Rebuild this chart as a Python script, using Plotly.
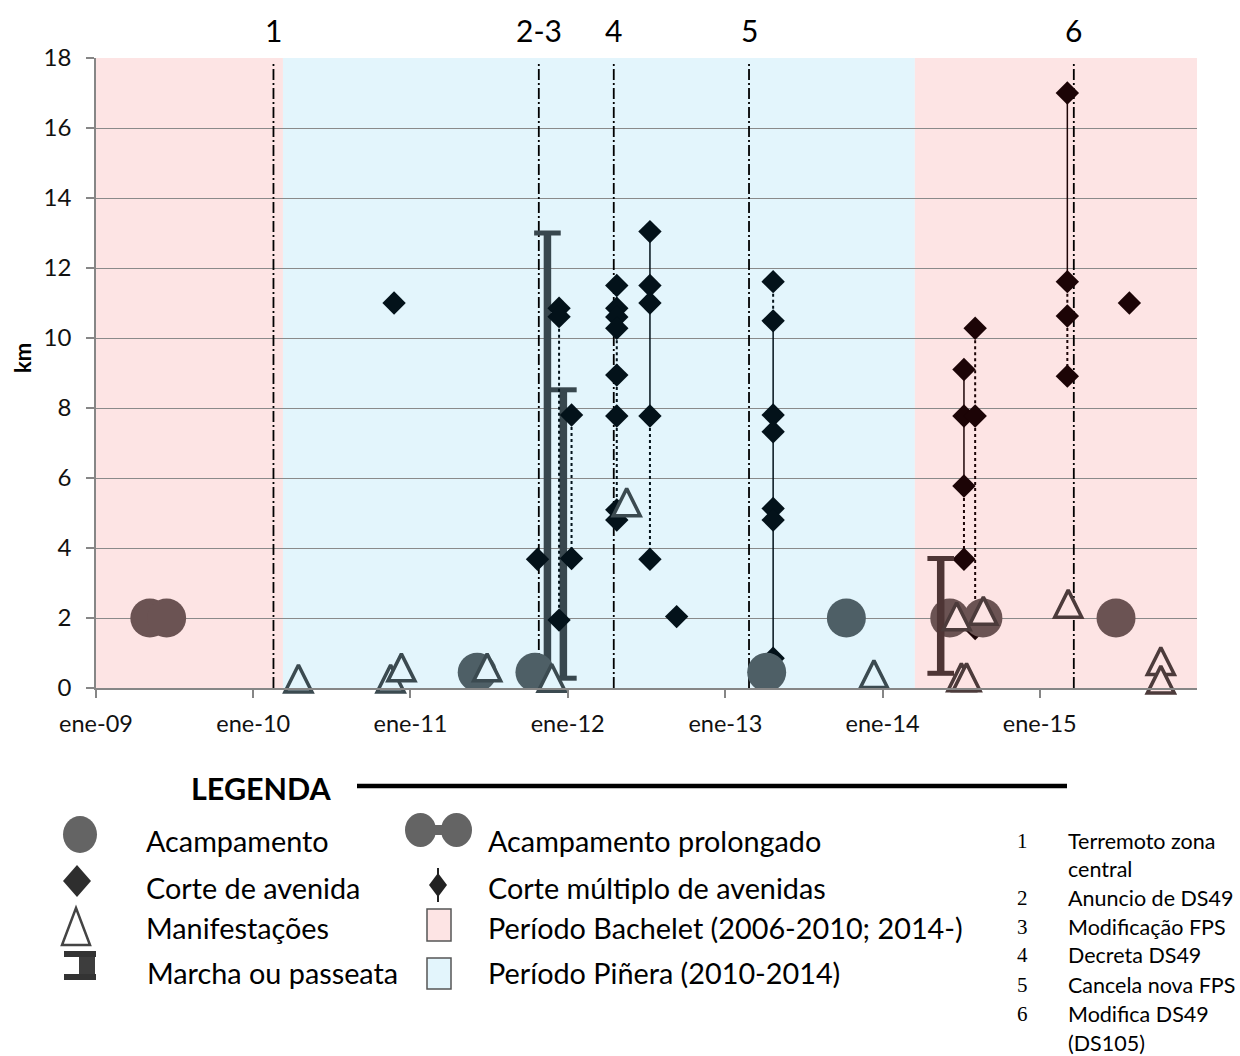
import plotly.graph_objects as go

W, H = 1240, 1056

# ---------------- data ----------------
x_start, x_end = "2009-01-01", "2016-01-01"
tick_dates = ["2009-01-01", "2010-01-01", "2011-01-01", "2012-01-01",
              "2013-01-01", "2014-01-01", "2015-01-01"]
tick_labels = ["ene-09", "ene-10", "ene-11", "ene-12", "ene-13", "ene-14", "ene-15"]
y_ticks = [0, 2, 4, 6, 8, 10, 12, 14, 16, 18]

piniera_start, piniera_end = "2010-03-11", "2014-03-17"

event_labels = ["1", "2-3", "4", "5", "6"]
event_dates = ["2010-02-17", "2011-10-26", "2012-04-17", "2013-02-25", "2015-03-21"]

# Acampamento
acamp_dates = ["2011-06-05", "2011-10-17", "2013-04-07", "2013-10-09", "2015-06-27"]
acamp_km = [0.45, 0.45, 0.45, 2.0, 2.0]

# Acampamento prolongado (start / end)
prol_start = ["2009-05-06", "2014-06-06"]
prol_end = ["2009-06-14", "2014-08-22"]
prol_km = [2.0, 2.0]

# Corte de avenida (single)
corte_dates = ["2010-11-24", "2011-10-23", "2012-09-10", "2015-07-28"]
corte_km = [11.0, 3.68, 2.04, 11.0]

# Corte múltiplo de avenidas
multi_dates = ["2011-12-12", "2012-01-10", "2012-04-24", "2012-07-10",
               "2013-04-22", "2014-07-09", "2014-08-04", "2015-03-06"]
multi_km = [
    [10.85, 10.61, 1.94],
    [7.8, 3.7],
    [11.5, 10.85, 10.6, 10.28, 8.94, 7.77, 5.09, 4.8],
    [13.04, 11.5, 11.0, 7.77, 3.68],
    [11.61, 10.49, 7.8, 7.32, 5.13, 4.8, 0.85],
    [9.1, 7.77, 5.77, 3.68],
    [10.28, 7.77, 1.7],
    [17.0, 11.61, 10.63, 8.91],
]

# Manifestações
manif_dates = ["2010-04-16", "2010-11-16", "2010-12-11", "2011-06-28", "2011-11-25",
               "2012-05-17", "2013-12-12", "2014-06-22", "2014-08-23", "2014-07-03",
               "2014-07-15", "2015-03-08", "2015-10-09", "2015-10-09"]
manif_km = [0.27, 0.27, 0.59, 0.59, 0.29, 5.31, 0.4, 2.05, 2.21, 0.31, 0.31, 2.41, 0.77, 0.24]

# Marcha ou passeata (low / high)
marcha_dates = ["2011-11-15", "2011-12-22", "2014-05-16"]
marcha_low = [0.25, 0.28, 0.42]
marcha_high = [13.0, 8.52, 3.7]

# ---------------- styles ----------------
FONT = "Lato, 'Open Sans', sans-serif"
BG = {"b": "#fde4e4", "p": "#e3f5fc"}
C_CIRCLE = {"b": "#6b5353", "p": "#4e5f66"}
C_DIAM = {"b": "#1c0406", "p": "#03121a"}
C_TRI = {"b": "#4c3b3b", "p": "#3b4a50"}
C_MARCHA = {"b": "#4e3535", "p": "#38474e"}
multi_seg_dash = [
    ["dot", "dot"], ["dot"], ["dot"] * 7, ["solid", "solid", "solid", "dot"],
    ["dot", "solid", "solid", "solid", "solid", "solid"], ["solid", "solid", "dot"],
    ["dot", "dot"], ["solid", "dot", "dot"],
]
EVENT_TOP = 17.85


def period(d):
    return "p" if piniera_start <= d < piniera_end else "b"


def X(p):
    return p / W


def Y(p):
    return 1 - p / H


fig = go.Figure()

# Event lines (dash-dot)
for d in event_dates:
    fig.add_trace(go.Scatter(x=[d, d], y=[0, EVENT_TOP], mode="lines",
                             line=dict(color="black", width=1.8, dash="11px,3px,2px,3px"),
                             showlegend=False, hoverinfo="skip"))


def add_marcha(i):
    c = C_MARCHA[period(marcha_dates[i])]
    fig.add_trace(go.Scatter(
        x=[marcha_dates[i], marcha_dates[i]], y=[marcha_low[i], marcha_high[i]],
        mode="lines+markers", line=dict(color=c, width=7.5),
        marker=dict(symbol="line-ew", size=19, color=c, line=dict(color=c, width=5)),
        showlegend=False, hoverinfo="skip", cliponaxis=False))


for i, d in enumerate(marcha_dates):
    if period(d) == "p":
        add_marcha(i)

# Multi cuts: connecting lines
for d, ks, dashes in zip(multi_dates, multi_km, multi_seg_dash):
    c = C_DIAM[period(d)]
    for j in range(len(ks) - 1):
        fig.add_trace(go.Scatter(x=[d, d], y=[ks[j], ks[j + 1]], mode="lines",
                                 line=dict(color=c, width=2 if dashes[j] == "dot" else 1.5,
                                           dash=dashes[j]),
                                 showlegend=False, hoverinfo="skip"))

# Diamonds
all_d, all_k = [], []
for d, ks in zip(multi_dates, multi_km):
    all_d += [d] * len(ks)
    all_k += ks
all_d += corte_dates
all_k += corte_km
fig.add_trace(go.Scatter(x=all_d, y=all_k, mode="markers",
                         marker=dict(symbol="diamond", size=18,
                                     color=[C_DIAM[period(d)] for d in all_d]),
                         showlegend=False, hoverinfo="skip"))

# Acampamento prolongado
for s, e, k in zip(prol_start, prol_end, prol_km):
    c = C_CIRCLE[period(s)]
    fig.add_trace(go.Scatter(x=[s, e], y=[k, k], mode="lines+markers",
                             line=dict(color=c, width=14),
                             marker=dict(size=39, color=c),
                             showlegend=False, hoverinfo="skip"))

# Acampamento
fig.add_trace(go.Scatter(x=acamp_dates, y=acamp_km, mode="markers",
                         marker=dict(size=39, color=[C_CIRCLE[period(d)] for d in acamp_dates]),
                         showlegend=False, hoverinfo="skip"))

for i, d in enumerate(marcha_dates):
    if period(d) == "b":
        add_marcha(i)

# Manifestações (upward triangles centred on the value)
fig.add_trace(go.Scatter(
    x=manif_dates, y=manif_km, mode="markers",
    marker=dict(symbol="arrow-down", angle=180, size=27, standoff=13.5,
                color=[BG[period(d)] for d in manif_dates],
                line=dict(color=[C_TRI[period(d)] for d in manif_dates], width=3.5)),
    showlegend=False, hoverinfo="skip", cliponaxis=False))

# ---------------- shapes ----------------
shapes = []
for x0, x1, p in [(x_start, piniera_start, "b"), (piniera_start, piniera_end, "p"),
                  (piniera_end, x_end, "b")]:
    shapes.append(dict(type="rect", xref="x", yref="y domain", x0=x0, x1=x1, y0=0, y1=1,
                       fillcolor=BG[p], line=dict(width=0), layer="below"))

annotations = []
for d, lab in zip(event_dates, event_labels):
    annotations.append(dict(x=d, xref="x", y=Y(30), yref="paper", text=lab, showarrow=False,
                            font=dict(family=FONT, size=30, color="black"),
                            xanchor="center", yanchor="middle"))

annotations.append(dict(x=X(22), y=Y(358), xref="paper", yref="paper", text="<b>km</b>",
                        textangle=-90, showarrow=False, xanchor="center", yanchor="middle",
                        font=dict(family=FONT, size=22, color="black")))

# ---------------- legend ----------------
def path(pts):
    return "M " + " L ".join(f"{X(a):.5f},{Y(b):.5f}" for a, b in pts) + " Z"


annotations.append(dict(x=X(189), y=Y(788), xref="paper", yref="paper", text="<b>LEGENDA</b>",
                        showarrow=False, xanchor="left", yanchor="middle",
                        font=dict(family=FONT, size=30.5, color="black")))
shapes.append(dict(type="line", xref="paper", yref="paper", x0=X(357), x1=X(1067),
                   y0=Y(786), y1=Y(786), line=dict(color="black", width=4.5)))

g_circ = "#646464"
shapes.append(dict(type="circle", xref="paper", yref="paper", x0=X(63), x1=X(97),
                   y0=Y(853), y1=Y(816), fillcolor=g_circ, line=dict(width=0)))
shapes.append(dict(type="circle", xref="paper", yref="paper", x0=X(405), x1=X(436),
                   y0=Y(847), y1=Y(813), fillcolor=g_circ, line=dict(width=0)))
shapes.append(dict(type="circle", xref="paper", yref="paper", x0=X(441), x1=X(472),
                   y0=Y(847), y1=Y(813), fillcolor=g_circ, line=dict(width=0)))
shapes.append(dict(type="rect", xref="paper", yref="paper", x0=X(420), x1=X(456),
                   y0=Y(835), y1=Y(825), fillcolor=g_circ, line=dict(width=0)))
shapes.append(dict(type="path", xref="paper", yref="paper",
                   path=path([(77, 865), (91, 881), (77, 897), (63, 881)]),
                   fillcolor="#2e2e2e", line=dict(width=0)))
shapes.append(dict(type="line", xref="paper", yref="paper", x0=X(438), x1=X(438),
                   y0=Y(868), y1=Y(902), line=dict(color="#222222", width=2)))
shapes.append(dict(type="path", xref="paper", yref="paper",
                   path=path([(438, 873), (447, 885), (438, 897), (429, 885)]),
                   fillcolor="#222222", line=dict(width=0)))
shapes.append(dict(type="path", xref="paper", yref="paper",
                   path=path([(76, 908), (90, 945), (62, 945)]),
                   fillcolor="white", line=dict(color="#444444", width=2.5)))
for y0, y1 in [(951, 957), (974, 980)]:
    shapes.append(dict(type="rect", xref="paper", yref="paper", x0=X(64), x1=X(96),
                       y0=Y(y1), y1=Y(y0), fillcolor="#333333", line=dict(width=0)))
shapes.append(dict(type="rect", xref="paper", yref="paper", x0=X(79), x1=X(95),
                   y0=Y(974), y1=Y(957), fillcolor="#3d3d3d", line=dict(width=0)))
shapes.append(dict(type="rect", xref="paper", yref="paper", x0=X(427), x1=X(451),
                   y0=Y(941), y1=Y(909), fillcolor=BG["b"], line=dict(color="#555555", width=1.5)))
shapes.append(dict(type="rect", xref="paper", yref="paper", x0=X(427), x1=X(451),
                   y0=Y(989), y1=Y(958), fillcolor=BG["p"], line=dict(color="#555555", width=1.5)))

leg_texts = [
    (144, 841, "Acampamento"), (144, 888, "Corte de avenida"), (144, 928, "Manifestações"),
    (145, 973, "Marcha ou passeata"),
    (486, 841, "Acampamento prolongado"), (486, 888, "Corte múltiplo de avenidas"),
    (486, 928, "Período Bachelet (2006-2010; 2014-)"), (486, 973, "Período Piñera (2010-2014)"),
]
for x, y, t in leg_texts:
    annotations.append(dict(x=X(x), y=Y(y), xref="paper", yref="paper", text=t,
                            showarrow=False, xanchor="left", yanchor="middle",
                            font=dict(family=FONT, size=28.8, color="black")))

ev_nums = [(841, "1"), (898, "2"), (927, "3"), (955, "4"), (985, "5"), (1014, "6")]
for y, t in ev_nums:
    annotations.append(dict(x=X(1022), y=Y(y), xref="paper", yref="paper", text=t,
                            showarrow=False, xanchor="center", yanchor="middle",
                            font=dict(family="Liberation Serif, serif", size=21, color="black")))
ev_texts = [(841, "Terremoto zona"), (869, "central"), (898, "Anuncio de DS49"),
            (927, "Modificação FPS"), (955, "Decreta DS49"), (985, "Cancela nova FPS"),
            (1014, "Modifica DS49"), (1043, "(DS105)")]
for y, t in ev_texts:
    annotations.append(dict(x=X(1066), y=Y(y), xref="paper", yref="paper", text=t,
                            showarrow=False, xanchor="left", yanchor="middle",
                            font=dict(family=FONT, size=21.5, color="black")))

fig.update_layout(
    width=W, height=H, margin=dict(l=0, r=0, t=0, b=0, autoexpand=False),
    paper_bgcolor="white", plot_bgcolor="white",
    shapes=shapes, annotations=annotations, showlegend=False,
    xaxis=dict(domain=[X(96), X(1197)], type="date", range=[x_start, x_end],
               tickvals=tick_dates, ticktext=tick_labels, showgrid=False,
               showline=True, linecolor="#868686", linewidth=1.5,
               ticks="outside", ticklen=8, tickcolor="#868686", tickwidth=1.5,
               ticklabelstandoff=6, automargin=False,
               tickfont=dict(family=FONT, size=23.5, color="#111111"), zeroline=False),
    yaxis=dict(domain=[Y(688), Y(58)], range=[0, 18], tickvals=y_ticks,
               showgrid=True, gridcolor="#8a8a8a", gridwidth=1.2,
               showline=True, linecolor="#868686", linewidth=1.5,
               ticks="outside", ticklen=8, tickcolor="#868686", tickwidth=1.5,
               ticklabelstandoff=10, automargin=False,
               tickfont=dict(family=FONT, size=24, color="#111111"), zeroline=False),
)

fig.write_html("out.html", config={"displayModeBar": False},
               post_script="document.body.style.margin='0';")
